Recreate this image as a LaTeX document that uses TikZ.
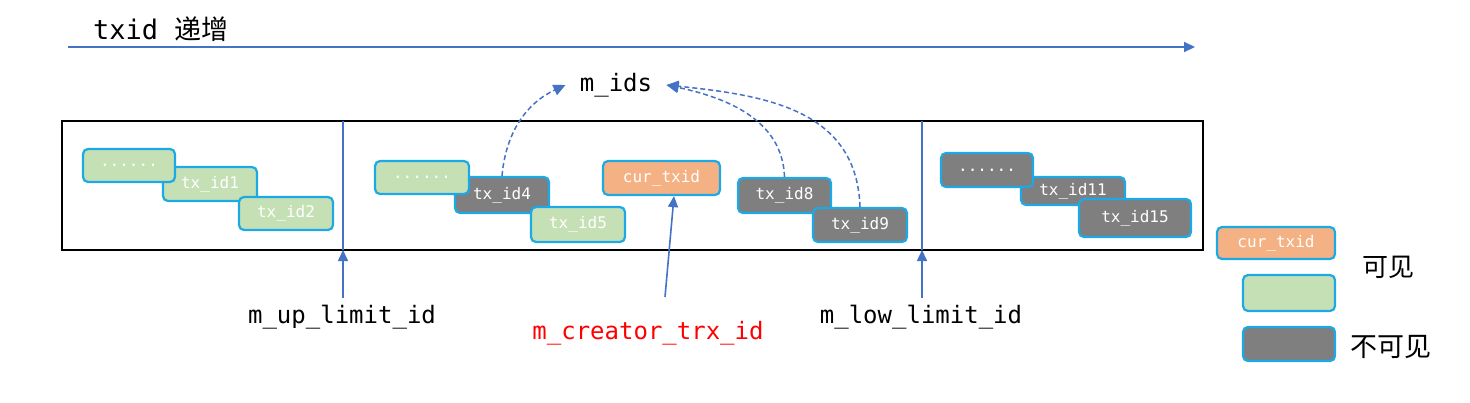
\documentclass[tikz,border=0pt]{standalone}
\usepackage{fontspec}
\setmonofont{DejaVu Sans Mono}
\newfontfamily\cjk{Noto Sans CJK SC}
\usepackage{tikz}
\usetikzlibrary{arrows.meta}
\definecolor{TxGreen}{RGB}{197,224,180}
\definecolor{TxGray}{RGB}{127,127,127}
\definecolor{TxOrange}{RGB}{244,177,131}
\definecolor{TxBorder}{RGB}{29,169,230}
\definecolor{TxBlue}{RGB}{68,114,196}
\newlength\pxu
\setlength\pxu{0.5pt}

\begin{document}
\begin{tikzpicture}[x=1\pxu,y=-1\pxu,
txb/.style n args={3}{fill=#1,draw=TxBorder,line width=1.1pt,rounded corners=2.5pt,minimum width=#2\pxu,minimum height=#3\pxu,inner sep=0pt,text=white,font=\ttfamily\fontsize{8}{9}\selectfont},
lbl/.style={font=\ttfamily\fontsize{12}{14}\selectfont},
blarrow/.style={TxBlue,line width=0.8pt,-{Triangle[length=5.5pt,width=5pt]}},
idarrow/.style={TxBlue,line width=0.75pt,dash pattern=on 2.5pt off 1.5pt,-{Triangle[length=6pt,width=5.5pt]}}]
\useasboundingbox (0,0) rectangle (1470,402);
% title and axis
\node[lbl,anchor=west,font=\ttfamily\fontsize{13.5}{15}\selectfont] (title) at (86,29) {txid {\cjk 递增}};
\coordinate (tl) at (68,47);
\coordinate (tr) at (1195,47);
\draw[blarrow,line width=1pt] (tl) -- (tr);
% read view frame
\draw[line width=1pt] (62,121) rectangle (1203,250);
\coordinate (s1t) at (343,121);
\coordinate (s1b) at (343,250);
\coordinate (s2t) at (922,121);
\coordinate (s2b) at (922,250);
\draw[TxBlue,line width=0.75pt] (s1t) -- (s1b);
\draw[TxBlue,line width=0.75pt] (s2t) -- (s2b);
% transactions
   \node[txb={TxGreen}{94}{34}](n1) at(210,184) {tx\_id1};
   \node[txb={TxGreen}{92}{33}](d1) at(129,165.5) {......};
   \node[txb={TxGreen}{94}{33}](n2) at(286,213.5) {tx\_id2};
   \node[txb={TxGray}{94}{36}](n4) at(502,195) {tx\_id4};
   \node[txb={TxGreen}{94}{33}](d2) at(422,177.5) {......};
   \node[txb={TxGreen}{94}{35}](n5) at(578,224.5) {tx\_id5};
   \node[txb={TxOrange}{117}{34}](cur) at(661.5,178) {cur\_txid};
   \node[txb={TxGray}{93}{35}](n8) at(784.5,195.5) {tx\_id8};
   \node[txb={TxGray}{94}{34}](n9) at(860,225) {tx\_id9};
   \node[txb={TxGray}{104}{28}](n11) at(1073,191) {tx\_id11};
   \node[txb={TxGray}{92}{34}](d3) at(987,170) {......};
   \node[txb={TxGray}{112}{38}](n15) at(1135,218) {tx\_id15};
% m_ids
\node[lbl,inner xsep=7pt] (mids) at (616,85) {m\_ids};
\draw[idarrow] (n4.north) to[out=85,in=205] (mids.west);
\draw[idarrow] (n8.north) to[out=92,in=-12] (mids.east);
\draw[idarrow] (n9.north) to[out=92,in=-6,looseness=1.1] (mids.east);
% limits
\node[lbl] (uplim) at (342,317) {m\_up\_limit\_id};
\node[lbl] (lowlim) at (921,317) {m\_low\_limit\_id};
\node[lbl,text=red] (creator) at (648,333) {m\_creator\_trx\_id};
\draw[blarrow] (uplim.north -| s1b) -- (s1b);
\draw[blarrow] (lowlim.north -| s2b) -- (s2b);
\coordinate (cl) at (665,297);
\draw[blarrow] (cl) -- ([xshift=12.5\pxu]cur.south);
% legend
   \node[txb={TxOrange}{118}{32}](lg0) at(1276,243) {cur\_txid};
   \node[txb={TxGreen}{92}{36}](lg1) at(1289,293) {};
   \node[txb={TxGray}{92}{34}](lg2) at(1289,344) {};
\node[font=\cjk\fontsize{13}{15}\selectfont] (vis) at (1388,267) {可见};
\node[font=\cjk\fontsize{13.5}{15}\selectfont] (invis) at (1391,347) {不可见};
\end{tikzpicture}
\end{document}
